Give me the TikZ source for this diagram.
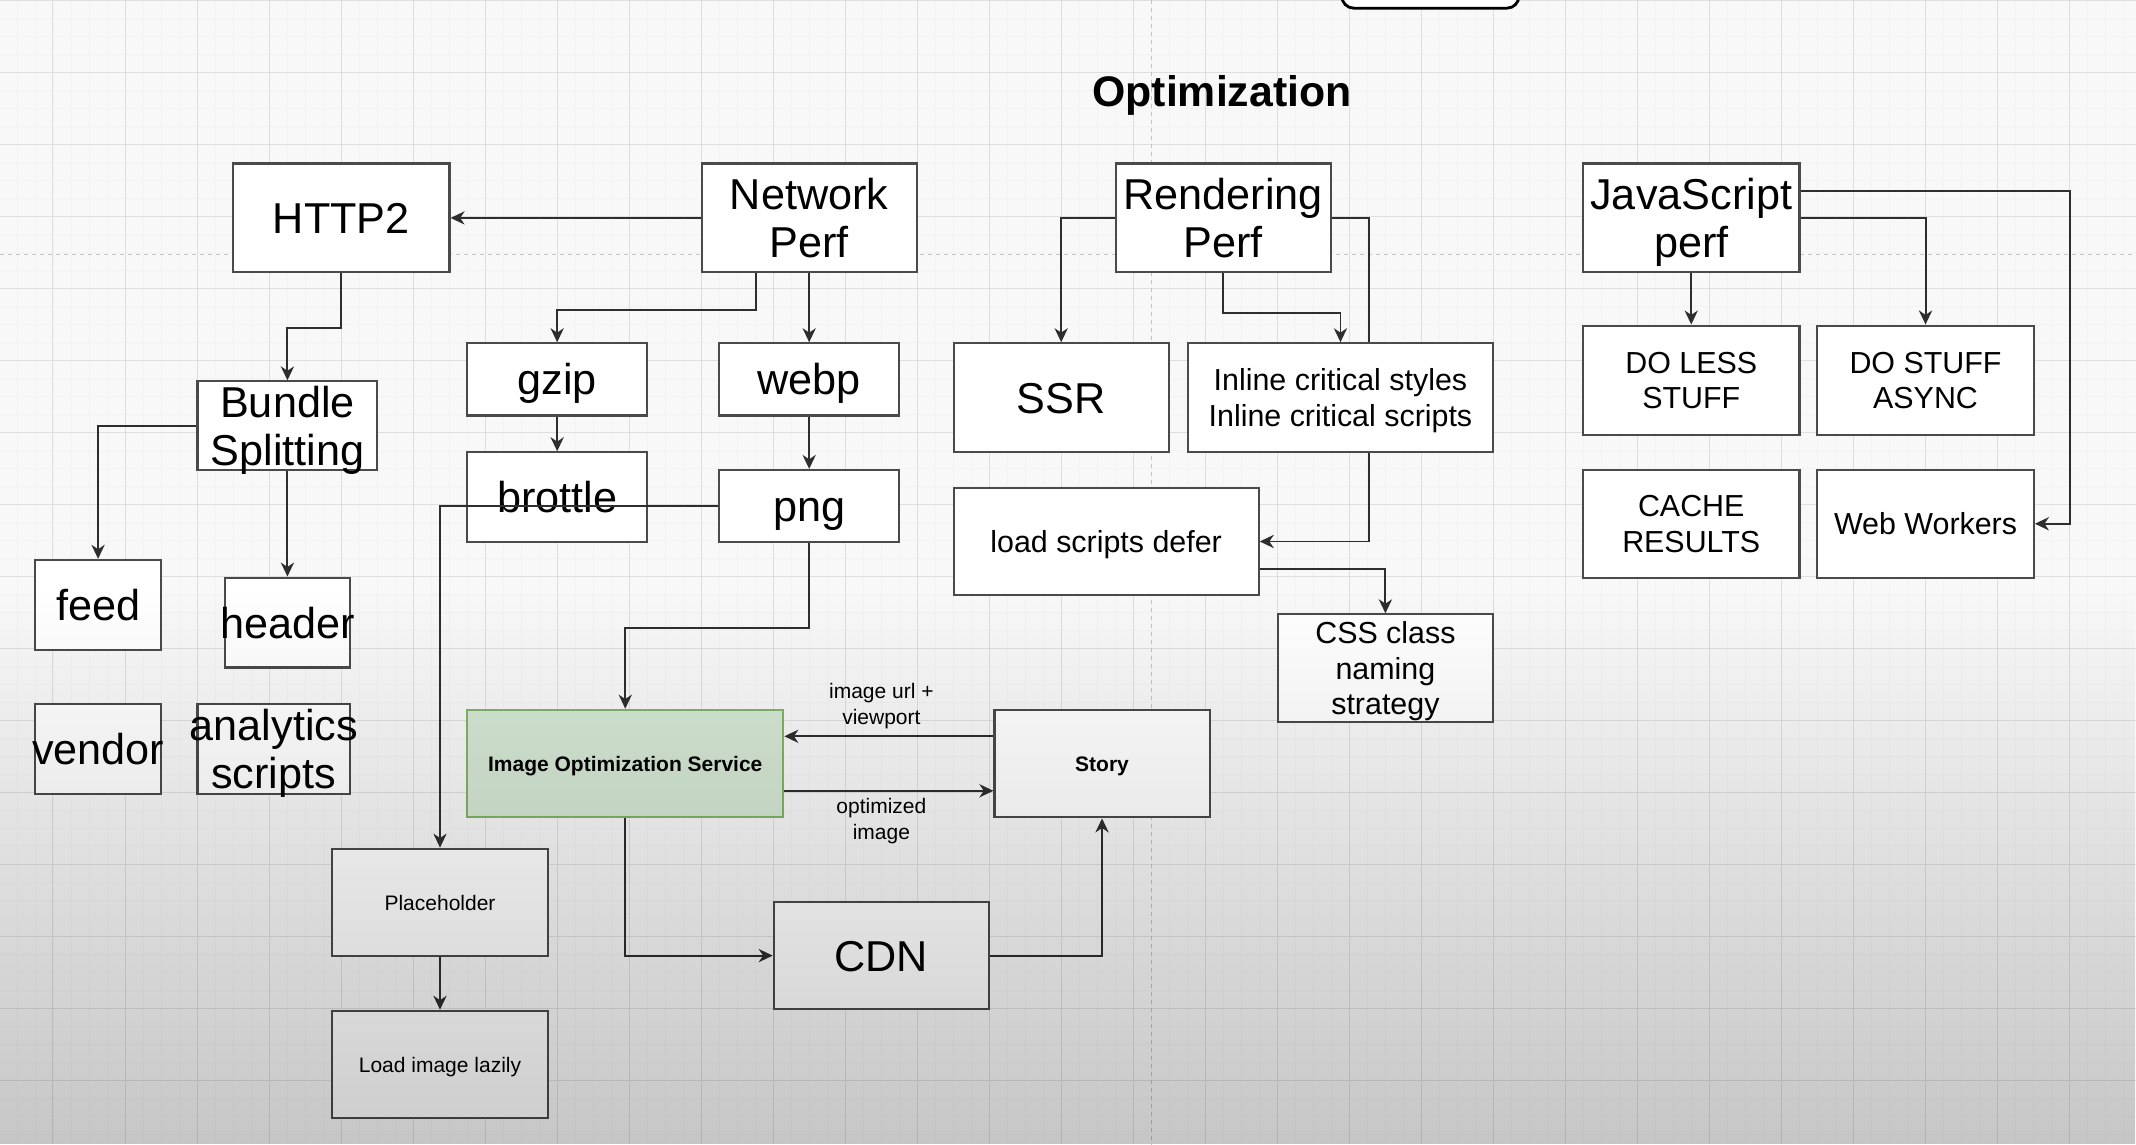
\documentclass[tikz,border=0pt]{standalone}
\usepackage{fontspec}
\setmainfont{Liberation Sans}
\usetikzlibrary{arrows.meta,calc,fit,fadings}
\definecolor{strokec}{HTML}{4A4A4A}
\definecolor{edgec}{HTML}{2E2E2E}
\definecolor{gridc}{HTML}{DFDFDF}
\definecolor{gridm}{HTML}{F3F3F3}
\definecolor{pagec}{HTML}{C4C4C4}
\definecolor{greenf}{HTML}{D5E8D4}
\definecolor{greend}{HTML}{82B366}
\definecolor{bgc}{HTML}{F8F8F8}
\pgfdeclarelayer{bg}
\pgfsetlayers{bg,main}
\newcommand\cl[1]{\smash{#1}\rule{0pt}{0.716em}}
\tikzset{
  box/.style={draw=strokec, line width=1.05pt, fill=white, inner sep=0pt},
  greenbox/.style={fill=greenf, draw=greend},
  txt/.style={align=center, inner sep=0pt, text=black},
  fbig/.style={font=\fontsize{21.6}{23.9}\selectfont},
  fmid/.style={font=\fontsize{15.2}{17.8}\selectfont},
  fsml/.style={font=\fontsize{10.5}{12.8}\selectfont},
  fsmb/.style={font=\bfseries\fontsize{10.5}{12.8}\selectfont},
  arr/.style={draw=edgec, line width=0.95pt, -{Stealth[length=7pt,width=6.6pt,inset=2.2pt]}},
  gridline/.style={draw=gridc, line width=0.5pt},
  gridminor/.style={draw=gridm, line width=0.35pt},
  pageline/.style={draw=pagec, line width=0.5pt, dash pattern=on 2pt off 2pt},
}
\newcommand\bx[8]{%
  \node[box,#6,fit={(#2,#3)(#4,#5)}] (#1) {};
  \node[txt,#7] (#1-t) at (#1.center) {#8};}
\begin{document}
\begin{tikzpicture}[x=0.681pt,y=-0.681pt]
\useasboundingbox (0,0) rectangle (1568,840);

% nodes
\node[draw=black, fill=white, line width=1.4pt, rounded corners=6pt, inner sep=0pt, fit={(985,-30)(1115,6)}] (topbox) {};
\node[txt, font=\bfseries\fontsize{21.4}{24}\selectfont] (title) at (897,67) {\cl{Optimization}};

\bx{http}{171}{120}{330}{200}{}{fbig}{\cl{HTTP2}}
\bx{np}{515}{120}{673}{200}{}{fbig}{\cl{Network}\\\cl{Perf}}
\bx{rp}{819}{120}{977}{200}{}{fbig}{\cl{Rendering}\\\cl{Perf}}
\bx{js}{1162}{120}{1321}{200}{}{fbig}{\cl{JavaScript}\\\cl{perf}}
\bx{bs}{145}{280}{277}{345}{}{fbig}{\cl{Bundle}\\\cl{Splitting}}
\bx{gzip}{343}{252}{475}{305}{}{fbig}{\cl{gzip}}
\bx{webp}{528}{252}{660}{305}{}{fbig}{\cl{webp}}
\bx{ssr}{700}{252}{858}{332}{}{fbig}{\cl{SSR}}
\bx{inl}{872}{252}{1096}{332}{}{fmid}{\cl{Inline critical styles}\\\cl{Inline critical scripts}}
\bx{dls}{1162}{239}{1321}{319}{}{fmid}{\cl{DO LESS}\\\cl{STUFF}}
\bx{dsa}{1334}{239}{1493}{319}{}{fmid}{\cl{DO STUFF}\\\cl{ASYNC}}
\bx{brot}{343}{332}{475}{398}{}{fbig}{\cl{brottle}}
\bx{png}{528}{345}{660}{398}{}{fbig}{\cl{png}}
\bx{lsd}{700}{358}{924}{437}{}{fmid}{\cl{load scripts defer}}
\bx{cache}{1162}{345}{1321}{424}{}{fmid}{\cl{CACHE}\\\cl{RESULTS}}
\bx{ww}{1334}{345}{1493}{424}{}{fmid}{\cl{Web Workers}}
\bx{feed}{26}{411}{118}{477}{}{fbig}{\cl{feed}}
\bx{header}{165}{424}{257}{490}{}{fbig}{\cl{header}}
\bx{css}{938}{451}{1096}{530}{}{fmid}{\cl{CSS class}\\\cl{naming}\\\cl{strategy}}
\bx{vendor}{26}{517}{118}{583}{}{fbig}{\cl{vendor}}
\bx{ana}{145}{517}{257}{583}{}{fbig}{\cl{analytics}\\\cl{scripts}}
\bx{ios}{343}{521}{575}{600}{greenbox}{fsmb}{\cl{Image Optimization Service}}
\bx{story}{730}{521}{888}{600}{}{fsmb}{\cl{Story}}
\bx{ph}{244}{623}{402}{702}{}{fsml}{\cl{Placeholder}}
\bx{cdn}{568}{662}{726}{741}{}{fbig}{\cl{CDN}}
\bx{lil}{244}{742}{402}{821}{}{fsml}{\cl{Load image lazily}}

% background, grid, hidden connector
\begin{pgfonlayer}{bg}
  \fill[bgc] (0,0) rectangle (1568,840);
  \foreach \i in {0,...,119} \draw[gridminor] ({-0.75+13.215*\i},0) -- ++(0,840);
  \foreach \j in {0,...,64} \draw[gridminor] (0,{0.44+13.215*\j}) -- ++(1568,0);
  \foreach \i in {0,...,29} \draw[gridline] ({38.9+52.86*\i},0) -- ++(0,840);
  \foreach \j in {0,...,15} \draw[gridline] (0,{0.44+52.86*\j}) -- ++(1568,0);
  \draw[pageline] (0,186.7) -- (1568,186.7);
  \draw[pageline] (845.5,0) -- (845.5,840);
  \draw[arr] (rp.east) -| ($(lsd.east)+(80,0)$) -- (lsd.east);
\end{pgfonlayer}

% connectors
\draw[arr] (np.west) -- (http.east);
\draw[arr] (http.south) -- ++(0,40) -| (bs.north);
\draw[arr] (bs.west) -| (feed.north);
\draw[arr] (bs.south) -- (header.north);
\draw[arr] ($(np.south)+(-39,0)$) -- ++(0,27) -| (gzip.north);
\draw[arr] (np.south) -- (webp.north);
\draw[arr] (gzip.south) -- (brot.north);
\draw[arr] (webp.south) -- (png.north);
\draw[arr] (png.west) -| (ph.north);
\draw[arr] (png.south) -- ++(0,62) -| (ios.north);
\draw[arr] (ph.south) -- (lil.north);
\draw[arr] ($(story.west)+(0,-20)$) -- ($(ios.east)+(0,-20)$);
\draw[arr] ($(ios.east)+(0,20)$) -- ($(story.west)+(0,20)$);
\draw[arr] (ios.south) |- (cdn.west);
\draw[arr] (cdn.east) -| (story.south);
\draw[arr] (rp.west) -| (ssr.north);
\draw[arr] (rp.south) -- ++(0,29) -| (inl.north);
\draw[arr] ($(lsd.east)+(0,20)$) -| (css.north);
\draw[arr] (js.south) -- (dls.north);
\draw[arr] (js.east) -| (dsa.north);
\draw[arr] ($(js.east)+(0,-20)$) -| ($(ww.east)+(26,0)$) -- (ww.east);

% edge labels
\node[txt,fsml] (lbl1) at (647,517) {\cl{image url +}\\\cl{viewport}};
\node[txt,fsml] (lbl2) at (647,601) {\cl{optimized}\\\cl{image}};

% video shading
\fill[black, opacity=0.2, path fading=north] (0,430) rectangle (1568,840);
\end{tikzpicture}
\end{document}
